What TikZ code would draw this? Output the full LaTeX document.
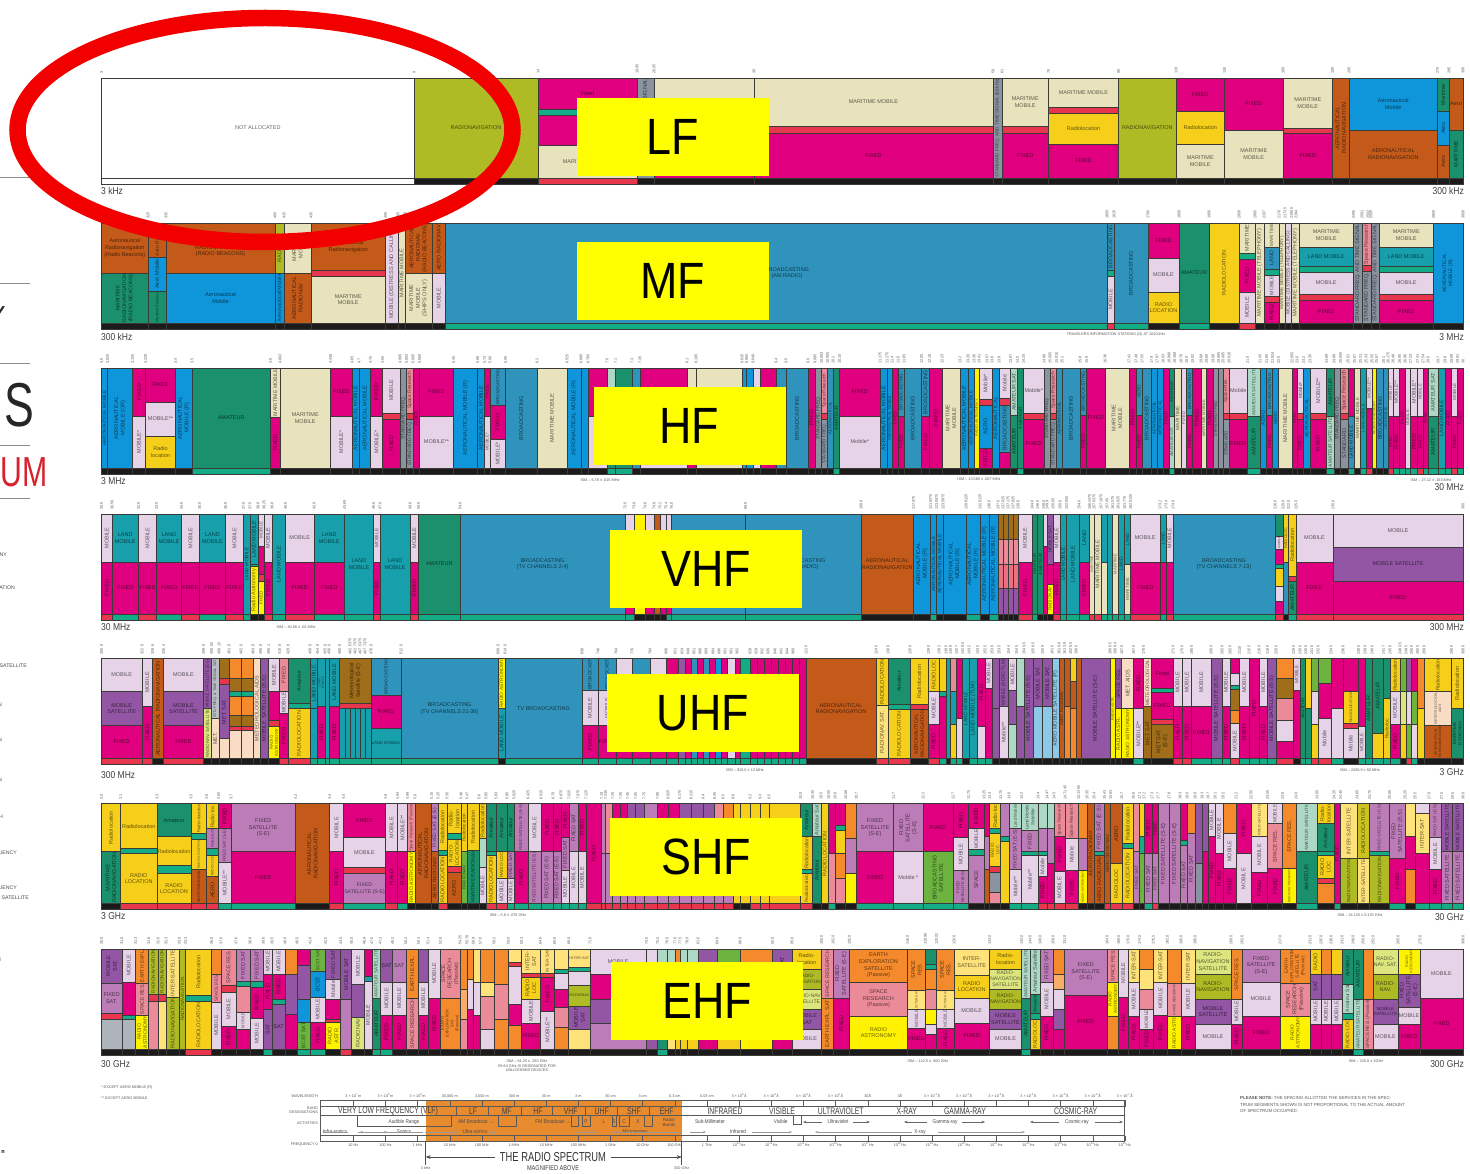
\documentclass[tikz,border=0pt]{standalone}
\usepackage{fontspec}
\setmainfont{Liberation Sans}
\usetikzlibrary{arrows.meta}
\definecolor{mg}{HTML}{E0007F}\definecolor{cr}{HTML}{E8E3BC}\definecolor{rd}{HTML}{E8364F}
\definecolor{ol}{HTML}{AEBB24}\definecolor{gn}{HTML}{14AC86}\definecolor{st}{HTML}{2F93BB}
\definecolor{bl}{HTML}{0F96DA}\definecolor{br}{HTML}{C35A19}\definecolor{dg}{HTML}{1A916C}
\definecolor{li}{HTML}{E6D3E8}\definecolor{pu}{HTML}{9256A4}\definecolor{oc}{HTML}{BC7CB8}
\definecolor{ye}{HTML}{F6CF1A}\definecolor{ly}{HTML}{FFE27A}\definecolor{by}{HTML}{FFF200}
\definecolor{gy}{HTML}{8A93A0}\definecolor{pk}{HTML}{EB8A98}\definecolor{te}{HTML}{17A0AC}
\definecolor{mi}{HTML}{ACD8C5}\definecolor{og}{HTML}{F58A2C}\definecolor{lg}{HTML}{DDE67E}
\definecolor{lm}{HTML}{6DB33F}\definecolor{pe}{HTML}{F8DCC4}\definecolor{lb}{HTML}{8CC8E8}
\definecolor{bi}{HTML}{A06E1A}\definecolor{bk}{HTML}{1C1A1A}\definecolor{wh}{HTML}{FFFFFF}
\definecolor{ln}{HTML}{3A3A36}\definecolor{elred}{HTML}{F20000}\definecolor{bo}{HTML}{E88A2E}
\definecolor{rm}{HTML}{D8232F}\definecolor{pureyel}{HTML}{FFFF00}
\newcount\nn
\newsavebox\lbbox
\newdimen\lbw \newdimen\lbh
\tikzset{cellline/.style={draw=ln,line width=.45pt},
 celltext/.style={inner sep=0pt,align=center,text=black,text opacity=.6},
 tinytext/.style={inner sep=0pt,text=black!65,font=\fontsize{3.8}{4.5}\selectfont},
 edgetext/.style={inner sep=0pt,text=black!75,font=\fontsize{10}{11}\selectfont},
 bigband/.style={fill=pureyel,inner sep=0pt,minimum width=192pt,minimum height=78pt,font=\fontsize{51}{54}\selectfont},
 bandtext/.style={inner sep=0pt,text=black!75,font=\fontsize{9.5}{10}\selectfont},
 acttext/.style={inner sep=0pt,text=black!70,font=\fontsize{5.5}{6}\selectfont}}
\newcommand\Rw[1]{\def\rowtop{#1}}
\newcommand\Cl[3]{\def\xa{#1}\def\xb{#2}\def\curend{0}%
 \pgfmathsetmacro\ya{\rowtop+100}\pgfmathsetmacro\yb{\rowtop+106}%
 \fill[#3] (\xa,\ya) rectangle (\xb,\yb);
 \draw[cellline] (\xa,\ya) rectangle (\xb,\yb);}
\newcommand\Bx[3]{%
 \pgfmathsetmacro\ya{\rowtop+\curend}\pgfmathsetmacro\yb{\rowtop+#2}%
 \fill[#1] (\xa,\ya) rectangle (\xb,\yb);
 \draw[cellline] (\xa,\ya) rectangle (\xb,\yb);
 \def\lab{#3}\ifx\lab\empty\else
 \pgfmathsetmacro\cw{\xb-\xa}\pgfmathsetmacro\ch{\yb-\ya}%
 \pgfmathsetmacro\cx{(\xa+\xb)/2}\pgfmathsetmacro\cy{(\ya+\yb)/2}%
 \sbox\lbbox{\pgfinterruptpicture\fontsize{5.5}{6.6}\selectfont\begin{tabular}{@{}c@{}}#3\end{tabular}\endpgfinterruptpicture}%
 \lbw=\wd\lbbox \lbh=\ht\lbbox \advance\lbh by \dp\lbbox
 \pgfmathsetmacro\bw{max(1,\the\lbw)}\pgfmathsetmacro\bh{max(1,\the\lbh)}%
 \pgfmathsetmacro\sh{min(1,min((\cw-1.5)/\bw,(\ch-.5)/\bh))}%
 \pgfmathsetmacro\sr{min(1,min((\ch-1.5)/\bw,(\cw-.5)/\bh))}%
 \pgfmathparse{\sr>\sh?1:0}\ifnum\pgfmathresult=1 \def\rr{90}\let\sv\sr\else\def\rr{0}\let\sv\sh\fi
 \pgfmathsetmacro\fs{max(2.6,5.5*\sv)}\pgfmathsetmacro\fsb{\fs*1.2}%
 \global\advance\nn by 1
 \begin{scope}\clip (\xa,\ya) rectangle (\xb,\yb);
 \node[celltext,rotate=\rr,font=\fontsize{\fs}{\fsb}\selectfont] (c\the\nn) at (\cx,\cy) {#3};
 \end{scope}\fi
 \def\curend{#2}}
\newcommand\One[5]{\Cl{#1}{#2}{#3}\Bx{#4}{100}{#5}}
\newcommand\Two[8]{\Cl{#1}{#2}{#3}\Bx{#4}{#5}{#6}\Bx{#7}{100}{#8}}
\newcommand\Thr[9]{\Cl{#1}{#2}{#3}\Bx{#4}{#5}{#6}\Bx{#7}{#8}{#9}\ThrEnd}
\newcommand\ThrEnd[2]{\Bx{#1}{100}{#2}}
\newcommand\LmF[3]{\Two{#1}{#2}{#3}{te}{48}{LAND\\MOBILE}{mg}{FIXED}}
\newcommand\Tt[4][]{\global\advance\nn by 1 \node[#1] (t\the\nn) at (#2,#3) {#4};}
\newcommand\Tks[2]{\foreach \x/\t in {#2}{\global\advance\nn by 1
 \node[tinytext,rotate=90,anchor=west] (k\the\nn) at (\x,#1-4) {\t};}}
\newcommand\Cnd[2][.72]{\scalebox{#1}[1]{#2}}
\begin{document}
\begin{tikzpicture}[x=1pt,y=-1pt]
\useasboundingbox (0,0) rectangle (1470,1174);
\clip (0,0) rectangle (1470,1174);
\fill[white] (0,0) rectangle (1470,1174);
% cropped page furniture on the left
\foreach \yy in {177,283,363,445,498}{\draw[black!45,line width=.7pt] (0,\yy) -- (30,\yy);}
\Tt[inner sep=0pt,anchor=east,font=\fontsize{62}{64}\selectfont,text=black!85]{34}{405}{\Cnd[.72]{IS}}
\Tt[inner sep=0pt,anchor=east,font=\fontsize{42}{44}\selectfont,text=rm]{47.5}{472}{\Cnd[.72]{RUM}}
\Tt[inner sep=0pt,anchor=east,font=\fontsize{26}{28}\selectfont,text=black!85]{6}{316}{Y}
\foreach \yy/\tx/\xx in {555/NY/7,588/ATION/15,666/SATELLITE/27,705/N/2,740/N/2,780/N/2,817/H/3,853/UENCY/17,888/UENCY/17,898/. SATELLITE/29,960/N/1}{
 \Tt[inner sep=0pt,anchor=east,text=black!70,font=\fontsize{5.2}{6}\selectfont]{\xx}{\yy}{\tx}}
\Tt[inner sep=0pt,anchor=east,text=black,font=\bfseries\fontsize{5.5}{6}\selectfont]{5}{1152}{n}
%% ===== LF =====
\Rw{78}
\Tks{78}{101.5/3,414/9,538/14,637/19.95,654/20.05,754/30,993/59,1002/61,1048.5/70,1118.5/90,1176/110,1224.5/130,1283/160,1332.5/190,1349/200,1437.5/275,1449/285,1463/300}
\One{101.5}{414}{wh}{wh}{NOT ALLOCATED}
\One{414}{538}{bk}{ol}{RADIONAVIGATION}
\Cl{538}{637}{rd}\Bx{mg}{31}{Fixed}\Bx{gn}{37}{}\Bx{mg}{67}{}\Bx{cr}{100}{MARITIME MOBILE}
\One{637}{654}{bk}{gy}{STANDARD FREQ. AND TIME SIGNAL}
\Thr{654}{754}{bk}{cr}{48}{}{rd}{55}{}{mg}{}
\Thr{754}{993}{bk}{cr}{48}{MARITIME MOBILE}{rd}{55}{}{mg}{FIXED}
\One{993}{1002}{bk}{gy}{STANDARD FREQ. AND TIME SIGNAL (60 kHz)}
\Thr{1002}{1048.5}{bk}{cr}{48}{MARITIME\\MOBILE}{rd}{55}{}{mg}{FIXED}
\Cl{1048.5}{1118.5}{bk}\Bx{cr}{29}{MARITIME MOBILE}\Bx{rd}{35}{}\Bx{ye}{66}{Radiolocation}\Bx{mg}{100}{FIXED}
\One{1118.5}{1176}{bk}{ol}{RADIONAVIGATION}
\Thr{1176}{1224.5}{bk}{mg}{33}{FIXED}{ye}{66}{Radiolocation}{cr}{MARITIME\\MOBILE}
\Two{1224.5}{1283}{bk}{mg}{52}{FIXED}{cr}{MARITIME\\MOBILE}
\Thr{1283}{1332.5}{bk}{cr}{50}{MARITIME\\MOBILE}{rd}{55}{}{mg}{FIXED}
\One{1332.5}{1349}{bk}{br}{AERONAUTICAL\\RADIONAVIGATION}
\Two{1349}{1437.5}{bk}{bl}{52}{Aeronautical\\Mobile}{br}{AERONAUTICAL\\RADIONAVIGATION}
\Thr{1437.5}{1449}{bk}{dg}{33}{Maritime}{bl}{67}{Aero}{br}{Aero}
\Two{1449}{1463}{bk}{br}{52}{Aero}{dg}{MARITIME}
%% ===== MF =====
\Rw{223}
\Tks{223}{148/325,166/335,275/405,284/415,311/435,385.5/495,398/505,405/510,432/525,1107/1605,1114/1615,1148/1705,1179/1800,1209/1900,1239/2000,1255/2065,1264/2107,1279/2170,1285/2173.5,1291.5/2190.5,1296/2194,1353.5/2495,1362/2501,1368/2502,1371/2505,1433.5/2850,1463/3000}
\Two{101.5}{148}{bk}{br}{50}{Aeronautical\\Radionavigation\\(Radio Beacons)}{dg}{MARITIME\\RADIONAVIGATION\\(RADIO BEACONS)}
\Thr{148}{166}{bk}{br}{34}{Aero Radionav}{bl}{68}{Aero Mobile}{dg}{Maritime Radionav}
\Two{166}{275}{bk}{br}{50}{AERONAUTICAL\\RADIONAVIGATION\\(RADIO BEACONS)}{bl}{Aeronautical\\Mobile}
\Two{275}{284}{bk}{ol}{50}{RADIONAV}{bl}{Aeronautical Mobile}
\Two{284}{311}{bk}{cr}{50}{MARITIME\\MOBILE}{br}{AERONAUTICAL\\RADIONAV}
\Thr{311}{385.5}{bk}{br}{47}{Aeronautical\\Radionavigation}{rd}{53}{}{cr}{MARITIME\\MOBILE}
\One{385.5}{398}{bk}{li}{MOBILE (DISTRESS AND CALLING)}
\One{398}{405}{bk}{cr}{MARITIME MOBILE}
\Two{405}{432}{bk}{br}{50}{AERONAUTICAL\\RADIONAV\\(RADIO BEACONS)}{cr}{MARITIME\\MOBILE\\(SHIPS ONLY)}
\Two{432}{445.5}{bk}{br}{50}{AERO RADIONAV}{li}{MOBILE}
\One{445.5}{1107}{gn}{st}{}
\Tt[celltext,font=\fontsize{5.5}{6.6}\selectfont]{787}{273}{BROADCASTING\\(AM RADIO)}
\Thr{1107}{1114}{rd}{st}{47}{BROADCASTING}{gn}{53}{}{li}{MOBILE}
\One{1114}{1148}{gn}{st}{BROADCASTING}
\Thr{1148}{1179}{bk}{mg}{35}{FIXED}{li}{69}{MOBILE}{ye}{RADIO\\LOCATION}
\One{1179}{1209}{gn}{dg}{AMATEUR}
\One{1209}{1239}{bk}{ye}{}
\Tt[celltext,rotate=90,font=\fontsize{5.5}{6.6}\selectfont]{1224}{273}{RADIOLOCATION}
\Cl{1239}{1255}{rd}\Bx{cr}{30}{MARITIME}\Bx{gn}{36}{}\Bx{mg}{69}{FIXED}\Bx{li}{100}{MOBILE}
\One{1255}{1264}{bk}{cr}{MARITIME MOBILE (TELEPHONY)}
\Cl{1264}{1279}{bk}\Bx{cr}{24}{MARITIME}\Bx{st}{46}{LAND}\Bx{gn}{52}{}\Bx{li}{73}{MOBILE}\Bx{rd}{79}{}\Bx{mg}{100}{FIXED}
\One{1279}{1285}{bk}{cr}{MARITIME MOBILE (TELEPHONY)}
\One{1285}{1291.5}{bk}{li}{MOBILE (DISTRESS AND CALLING)}
\One{1291.5}{1299}{bk}{cr}{MARITIME MOBILE (TELEPHONY)}
\Cl{1299}{1353.5}{bk}\Bx{cr}{24}{MARITIME\\MOBILE}\Bx{te}{43}{LAND MOBILE}\Bx{gn}{49}{}\Bx{li}{71}{MOBILE}\Bx{rd}{77}{}\Bx{mg}{100}{FIXED}
\One{1353.5}{1362}{bk}{gy}{STANDARD FREQ. AND TIME SIGNAL}
\Thr{1362}{1371}{bk}{pk}{42}{Space Research}{rd}{48}{}{gy}{STANDARD FREQ.}
\One{1371}{1379}{bk}{gy}{STANDARD FREQ. AND TIME SIGNAL}
\Cl{1379}{1433.5}{bk}\Bx{cr}{24}{MARITIME\\MOBILE}\Bx{te}{43}{LAND MOBILE}\Bx{gn}{49}{}\Bx{li}{71}{MOBILE}\Bx{rd}{77}{}\Bx{mg}{100}{FIXED}
\One{1433.5}{1463}{bk}{bl}{}
\Tt[celltext,rotate=90,font=\fontsize{5}{6}\selectfont]{1448}{273}{AERONAUTICAL\\MOBILE (R)}
%% ===== HF =====
\Rw{368}
\Tks{368}{101.5/3.0,107.5/3.025,132.5/3.155,145.5/3.230,175.5/3.4,192/3.5,270.5/4.0,280/4.063,330.5/4.438,352/4.65,359/4.7,370.5/4.75,382.5/4.85,400/4.995,406.5/5.003,413/5.005,419.5/5.060,453.5/5.45,477.5/5.68,484.5/5.73,490/5.90,505.5/5.95,537/6.2,567/6.525,581/6.685,588/6.765,607/7.0,615.5/7.1,632/7.3,640/7.35,687/8.1,696/8.195,742/8.815,746.5/8.965,753/9.040,776/9.4,786/9.5,808/9.9,815/9.995,821.5/10.003,827.5/10.005,833/10.1,839.6/10.15,880/11.175,887/11.275,892/11.4,898/11.6,904/11.65,921.5/12.05,929.5/12.10,942/12.23,960/13.2,968/13.26,974/13.36,979/13.41,987/13.57,992/13.6,999/13.8,1010.5/13.87,1017.5/14.0,1023.5/14.25,1044/14.99,1050/15.005,1056.5/15.010,1062/15.1,1080/15.8,1086.5/15.9,1105/16.36,1129/17.41,1136/17.48,1142/17.55,1151.5/17.9,1157/17.97,1163/18.03,1169/18.068,1174.5/18.168,1181/18.78,1186.5/18.9,1192.5/19.02,1201/19.68,1206.5/19.80,1213/19.99,1218.5/19.995,1223/20.005,1229/20.010,1247.5/21.0,1260/21.45,1266.5/21.85,1272.5/21.924,1278.5/22.0,1292/22.855,1297/23.0,1303.5/23.2,1310/23.35,1326.5/24.89,1334/24.99,1340.5/25.005,1348/25.01,1354.5/25.07,1360.5/25.21,1366/25.33,1372/25.55,1376.5/25.67,1383.5/26.1,1388/26.175,1393/26.48,1399.5/26.95,1405/26.96,1410.5/27.23,1417.5/27.41,1423/27.54,1428/28.0,1438/29.7,1445/29.8,1451.5/29.89,1457.5/29.91,1463/30}
\One{101.5}{107.5}{bk}{bl}{AERONAUTICAL MOBILE}
\One{107.5}{132.5}{bk}{bl}{AERONAUTICAL\\MOBILE (OR)}
\Two{132.5}{145.5}{bk}{mg}{48}{FIXED}{li}{MOBILE*}
\Thr{145.5}{175.5}{bk}{mg}{34}{FIXED}{li}{68}{MOBILE**}{ye}{Radio\\location}
\One{175.5}{192}{bk}{bl}{AERONAUTICAL\\MOBILE (R)}
\One{192}{270.5}{gn}{dg}{AMATEUR}
\Two{270.5}{280}{bk}{cr}{49}{MARITIME MOBILE}{mg}{FIXED}
\One{280}{330.5}{bk}{cr}{MARITIME\\MOBILE}
\Two{330.5}{352}{bk}{mg}{48}{FIXED}{li}{MOBILE*}
\One{352}{359}{bk}{bl}{AERONAUTICAL MOBILE}
\One{359}{370.5}{bk}{bl}{AERONAUTICAL MOBILE}
\Two{370.5}{382.5}{bk}{mg}{48}{FIXED}{li}{MOBILE*}
\Thr{382.5}{400}{bk}{li}{45}{MOBILE}{rd}{51}{}{mg}{FIXED}
\One{400}{406.5}{bk}{gy}{STANDARD FREQ.}
\Thr{406.5}{413}{bk}{pk}{45}{Space Research}{rd}{51}{}{gy}{STANDARD FREQ.}
\One{413}{419.5}{bk}{mg}{FIXED}
\Two{419.5}{453.5}{bk}{mg}{48}{FIXED}{li}{MOBILE**}
\One{453.5}{477.5}{bk}{bl}{AERONAUTICAL MOBILE (R)}
\One{477.5}{484.5}{bk}{bl}{AERONAUTICAL MOBILE}
\Two{484.5}{490}{bk}{mg}{48}{FIXED}{li}{MOBILE*}
\Thr{490}{505.5}{bk}{st}{37}{BROADCASTING}{mg}{71}{FIXED}{li}{MOBILE*}
\One{505.5}{537}{bk}{st}{BROADCASTING}
\One{537}{567}{bk}{cr}{MARITIME MOBILE}
\One{567}{581}{bk}{bl}{AERONAUTICAL MOBILE (R)}
\One{581}{588}{bk}{bl}{}
\Two{588}{607}{bk}{mg}{48}{}{li}{}
\Two{607}{615.5}{gn}{mi}{48}{}{dg}{}
\One{615.5}{632}{gn}{dg}{}
\One{632}{640}{bk}{st}{}
\Two{640}{687}{bk}{mg}{48}{}{li}{}
\Two{687}{696}{bk}{cr}{30}{}{mg}{}
\One{696}{742}{bk}{cr}{}
\One{742}{746.5}{bk}{bl}{}\One{746.5}{753}{bk}{bl}{}\One{753}{760}{bk}{li}{}
\One{760}{776}{bk}{mg}{}\One{776}{786}{bk}{st}{}
\One{786}{808}{bk}{st}{BROADCASTING}
\One{808}{815}{bk}{mg}{FIXED}
\One{815}{821.5}{bk}{gy}{STANDARD FREQ.}
\Thr{821.5}{827.5}{bk}{pk}{45}{Space Research}{rd}{51}{}{gy}{STANDARD FREQ.}
\One{827.5}{833}{bk}{st}{AERONAUTICAL}
\One{833}{839.6}{gn}{dg}{AMATEUR}
\Two{839.6}{880}{bk}{mg}{48}{FIXED}{li}{Mobile*}
\One{880}{887}{bk}{bl}{AERONAUTICAL MOBILE}
\One{887}{892}{bk}{bl}{AERONAUTICAL MOBILE}
\One{892}{898}{bk}{mg}{FIXED}
\Two{898}{904}{bk}{st}{48}{BROADCASTING}{mg}{FIXED}
\One{904}{921.5}{bk}{st}{BROADCASTING}
\Two{921.5}{929.5}{bk}{st}{48}{BROADCASTING}{mg}{FIXED}
\One{929.5}{942}{bk}{mg}{FIXED}
\One{942}{960}{bk}{cr}{MARITIME\\MOBILE}
\One{960}{968}{bk}{bl}{AERONAUTICAL MOBILE}
\One{968}{974}{bk}{bl}{AERONAUTICAL MOBILE}
\One{974}{979}{bk}{by}{RADIO ASTRONOMY}
\Cl{979}{992}{bk}\Bx{li}{31}{Mobile*}\Bx{rd}{37}{}\Bx{bl}{80}{AERO}\Bx{mg}{100}{FIXED}
\One{992}{999}{bk}{bl}{AERONAUTICAL}
\Cl{999}{1010.5}{bk}\Bx{li}{30}{Mobile}\Bx{rd}{37}{}\Bx{st}{84}{BROADCASTING}\Bx{mg}{100}{}
\Two{1010.5}{1017.5}{bk}{mi}{47}{AMATEUR SAT.}{dg}{AMATEUR}
\One{1017.5}{1023.5}{gn}{dg}{AMATEUR}
\Thr{1023.5}{1044}{bk}{li}{45}{Mobile*}{rd}{51}{}{mg}{FIXED}
\One{1044}{1050}{bk}{gy}{STANDARD FREQ.}
\Thr{1050}{1056.5}{bk}{pk}{45}{Space Research}{rd}{51}{}{gy}{STANDARD FREQ.}
\One{1056.5}{1062}{bk}{st}{AERONAUTICAL}
\One{1062}{1080}{bk}{st}{BROADCASTING}
\Two{1080}{1086.5}{bk}{st}{47}{BROADCASTING}{mg}{FIXED}
\One{1086.5}{1105}{bk}{mg}{FIXED}
\One{1105}{1129}{bk}{cr}{MARITIME\\MOBILE}
\One{1129}{1136}{bk}{mg}{FIXED}
\Two{1136}{1142}{bk}{st}{47}{AERO}{mg}{FIXED}
\One{1142}{1151.5}{bk}{st}{BROADCASTING}
\One{1151.5}{1157}{bk}{bl}{AERONAUTICAL}
\One{1157}{1163}{bk}{bl}{AERONAUTICAL}
\One{1163}{1169}{bk}{mg}{FIXED}
\Two{1169}{1174.5}{gn}{dg}{48}{AMATEUR}{mi}{AMATEUR SAT.}
\One{1174.5}{1181}{bk}{cr}{MARITIME}
\One{1181}{1186.5}{bk}{li}{FIXED}
\Two{1186.5}{1192.5}{bk}{st}{47}{BROADCASTING}{mg}{FIXED}
\One{1192.5}{1201}{bk}{mg}{FIXED}
\One{1201}{1206.5}{bk}{cr}{MARITIME MOBILE}
\One{1206.5}{1213}{bk}{mg}{FIXED}
\One{1213}{1218.5}{bk}{gy}{STANDARD FREQ.}
\One{1218.5}{1223}{bk}{gy}{}
\Thr{1223}{1229}{bk}{pk}{45}{Space Res.}{rd}{51}{}{gy}{STANDARD}
\Thr{1229}{1247.5}{bk}{li}{45}{Mobile}{rd}{51}{}{mg}{FIXED}
\Two{1247.5}{1260}{gn}{mi}{48}{AMATEUR SATELLITE}{dg}{AMATEUR}
\One{1260}{1266.5}{bk}{bl}{AERO}
\Two{1266.5}{1272.5}{bk}{st}{47}{BROADCASTING}{mg}{FIXED}
\One{1272.5}{1278.5}{bk}{bl}{AERO}
\One{1278.5}{1292}{bk}{cr}{MARITIME MOBILE}
\One{1292}{1297}{bk}{mg}{FIXED}
\Thr{1297}{1303.5}{bk}{li}{45}{Mobile*}{rd}{51}{}{mg}{FIXED}
\One{1303.5}{1310}{bk}{bl}{AERONAUTICAL}
\Thr{1310}{1326.5}{bk}{li}{45}{MOBILE**}{rd}{51}{}{mg}{FIXED}
\Two{1326.5}{1334}{gn}{dg}{48}{AMATEUR}{mi}{AMATEUR SATELLITE}
\One{1334}{1340.5}{bk}{gy}{STANDARD FREQ.}
\Thr{1340.5}{1348}{bk}{pk}{45}{Space Research}{rd}{51}{}{gy}{STANDARD}
\Two{1348}{1354.5}{gn}{mg}{48}{}{st}{LAND MOBILE}
\One{1354.5}{1360.5}{bk}{cr}{MARITIME MOBILE}
\One{1360.5}{1366}{gn}{te}{LAND MOBILE}
\Two{1366}{1372}{rd}{li}{40}{MOBILE**}{mg}{}
\One{1372}{1376.5}{bk}{by}{RADIO ASTRONOMY}
\One{1376.5}{1383.5}{bk}{st}{BROADCASTING}
\One{1383.5}{1388}{bk}{st}{LAND MOBILE}
\Two{1388}{1393}{rd}{li}{48}{MOBILE**}{mg}{FIXED}
\Two{1393}{1399.5}{gn}{li}{48}{MOBILE**}{mg}{FIXED}
\One{1399.5}{1405}{gn}{mg}{FIXED}
\One{1405}{1410.5}{gn}{li}{MOBILE}
\Two{1410.5}{1417.5}{gn}{li}{48}{MOBILE*}{mg}{FIXED}
\Two{1417.5}{1423}{rd}{li}{48}{MOBILE}{mg}{FIXED}
\One{1423}{1428}{gn}{mg}{FIXED}
\Two{1428}{1438}{gn}{mi}{48}{AMATEUR SAT.}{dg}{AMATEUR}
\One{1438}{1445}{gn}{te}{LAND MOBILE}
\One{1445}{1451.5}{gn}{mg}{FIXED}
\Two{1451.5}{1457.5}{rd}{li}{48}{MOBILE}{mg}{FIXED}
\One{1457.5}{1463}{gn}{mg}{FIXED}
%% ===== VHF =====
\Rw{514}
\Tks{514}{101.5/30.0,112/30.56,138.5/32.0,156.5/33.0,181.5/34.0,199.5/35.0,225.5/36.0,243.5/37.0,250/37.5,258/38.0,264/38.25,272/39.0,285.5/40.0,314/42.0,344.5/43.69,373.5/46.6,380/47.0,410/49.6,418.5/50.0,460/54.0,625/72.0,634/73.0,645/74.6,654/74.8,660/75.2,666/75.4,671.5/76.0,745.6/88.0,861/108.0,913.5/117.975,930.5/121.9375,936.5/123.0875,943/123.5875,966/128.8125,980/132.0125,989/136.0,998/137.0,1003/137.025,1008/137.175,1013/137.825,1018/138.0,1032/144.0,1037.5/146.0,1043.5/148.0,1047/149.9,1053/150.05,1060/150.8,1066.5/152.855,1079/154.0,1089.5/156.2475,1094/157.0375,1101/157.1875,1107/157.45,1112.5/161.575,1118/161.625,1124.5/161.775,1130.5/162.0125,1160/173.2,1166/173.4,1173/174.0,1275/216.0,1283/220.0,1288.5/222.0,1296/225.0,1333/235.0,1463/300}
\newcommand\VM[3]{\Two{#1}{#2}{#3}{li}{48}{MOBILE}{mg}{FIXED}}
\VM{101.5}{112}{rd}\LmF{112}{138.5}{gn}\VM{138.5}{156.5}{rd}\LmF{156.5}{181.5}{gn}\VM{181.5}{199.5}{rd}\LmF{199.5}{225.5}{gn}\VM{225.5}{243.5}{rd}
\One{243.5}{250}{gn}{te}{LAND MOBILE}
\Thr{250}{258}{bk}{te}{50}{LAND MOBILE}{gn}{52}{}{by}{Radio Astronomy}
\Cl{258}{264}{bk}\Bx{li}{32}{MOBILE}\Bx{mg}{60}{}\Bx{rd}{67}{}\Bx{by}{100}{FIXED}
\VM{264}{272}{rd}
\One{272}{285.5}{gn}{te}{LAND MOBILE}
\VM{285.5}{314}{rd}\LmF{314}{344.5}{gn}
\One{344.5}{373.5}{gn}{te}{LAND\\MOBILE}
\VM{373.5}{380}{rd}
\One{380}{410}{gn}{te}{LAND\\MOBILE}
\VM{410}{418.5}{rd}
\One{418.5}{460}{gn}{dg}{AMATEUR}
\One{460}{625}{gn}{st}{BROADCASTING\\(TV CHANNELS 2-4)}
\Two{625}{634}{gn}{li}{48}{}{mg}{}
\Two{634}{645}{bk}{by}{48}{}{by}{}
\Two{645}{654}{bk}{li}{48}{}{mg}{}
\One{654}{660}{bk}{br}{}
\Two{660}{666}{bk}{li}{48}{}{mg}{}
\Two{666}{671.5}{gn}{li}{48}{}{mg}{}
\One{671.5}{745.6}{gn}{st}{}
\One{745.6}{861}{gn}{st}{BROADCASTING\\(FM RADIO)}
\One{861}{913.5}{bk}{br}{AERONAUTICAL\\RADIONAVIGATION}
\One{913.5}{930.5}{bk}{bl}{AERONAUTICAL\\MOBILE (R)}
\One{930.5}{936.5}{gn}{bl}{AERONAUTICAL MOBILE}
\One{936.5}{943}{bk}{bl}{AERONAUTICAL MOBILE}
\One{943}{966}{bk}{bl}{AERONAUTICAL\\MOBILE (R)}
\One{966}{980}{gn}{bl}{AERONAUTICAL\\MOBILE (R)}
\One{980}{989}{bk}{bl}{AERONAUTICAL MOBILE (R)}
\One{989}{998}{gn}{bl}{AERONAUTICAL MOBILE (R)}
\foreach \pa/\pb in {998/1003,1003/1008,1008/1013,1013/1018}{
 \Cl{\pa}{\pb}{bk}\Bx{bi}{25}{}\Bx{pk}{50}{}\Bx{pk!70!rd}{74}{}\Bx{pu}{100}{}}
\VM{1018}{1032}{rd}
\One{1032}{1037.5}{gn}{dg}{AMATEUR}
\One{1037.5}{1043.5}{bk}{dg}{AMATEUR}
\Two{1043.5}{1047}{bk}{li}{32}{}{mg}{}
\Thr{1047}{1053}{bk}{pu}{50}{MOBILE SAT.}{mg}{70}{}{by}{RADIONAV}
\VM{1053}{1060}{rd}
\One{1060}{1066.5}{gn}{te}{LAND MOBILE}
\One{1066.5}{1079}{gn}{te}{LAND MOBILE}
\Two{1079}{1089.5}{gn}{te}{48}{LAND}{mg}{FIXED}
\One{1089.5}{1094}{rd}{cr}{MARITIME}
\One{1094}{1101}{rd}{cr}{MARITIME MOBILE}
\Two{1101}{1107}{gn}{te}{48}{}{cr}{}
\One{1107}{1112.5}{gn}{te}{}
\One{1112.5}{1118}{gn}{cr}{MARITIME}
\One{1118}{1124.5}{gn}{te}{LAND}
\Two{1124.5}{1130.5}{gn}{te}{50}{LAND}{cr}{MARITIME}
\VM{1130.5}{1160}{rd}
\Two{1160}{1166}{gn}{te}{48}{LAND}{mg}{}
\Two{1166}{1173}{rd}{li}{48}{MOBILE}{mg}{}
\One{1173}{1275}{gn}{st}{BROADCASTING\\(TV CHANNELS 7-13)}
\Cl{1275}{1283}{rd}\Bx{dg}{22}{}\Bx{li}{35}{MOBILE}\Bx{mg}{50}{}\Bx{gn}{54}{}\Bx{ye}{72}{}\Bx{li}{87}{}\Bx{mg}{100}{}
\Two{1283}{1288.5}{bk}{ye}{48}{RADIOLOC}{st}{}
\Thr{1288.5}{1296}{gn}{ye}{62}{Radiolocation}{rd}{67}{}{dg}{AMATEUR}
\Two{1296}{1333}{rd}{li}{48}{MOBILE}{mg}{FIXED}
\Thr{1333}{1463}{rd}{li}{33}{MOBILE}{pu}{67}{MOBILE SATELLITE}{mg}{FIXED}
%% ===== UHF =====
\Rw{658.5}
\Tks{658.5}{101.5/300.0,142/322.0,152.5/328.6,163.5/335.4,203.5/399.9,211.5/400.05,219/400.15,229/401.0,241/402.0,253/403.0,260.5/406.0,268.5/406.1,279.5/410.0,288/420.0,310/450.0,317.5/454.0,325/455.0,329/456.0,339.5/460.0,350/462.5375,355/462.7375,360/467.5375,365/467.7375,371/470.0,401/512.0,498/608.0,505/614.0,582/698,598/746,616/764,632/776,650/794,666/806,675/821,682/824,688/849,694/851,700/866,706/869,713/894,719/896,725/901,731/901,737/902,750/928,756/929,762/932,768/935,775/940,781/941,787/944,793/960,806/1215,876/1240,888/1300,910/1350,928.5/1390,939/1392,946/1395,950.5/1400,956.5/1427,962.5/1429.5,969/1432,977.5/1435,985/1525,992/1530,999/1535,1008.5/1544,1016.5/1545,1024/1549.5,1033/1558.5,1042.5/1559,1052/1610,1059/1610.6,1064.5/1613.8,1070.5/1626.5,1076/1660,1110/1660.5,1115/1668.4,1121.7/1670,1133.5/1675,1143.5/1700,1173/1710,1182/1755,1191.5/1850,1211/2000,1222/2020,1230/2025,1239.5/2110,1249/2155,1259/2160,1267.5/2180,1276/2200,1293.5/2290,1300/2300,1305.7/2305,1311.7/2310,1318/2320,1331/2345,1343/2360,1358.5/2385,1365/2390,1372/2400,1383.5/2417,1390/2450,1400/2483.5,1406/2495,1411.5/2500,1417.5/2655,1424/2690,1451.5/2900,1463/3000}
\newcommand\MSF[2]{\Thr{#1}{#2}{rd}{li}{33}{MOBILE}{pu}{67}{MOBILE\\SATELLITE}{mg}{FIXED}}
\MSF{101.5}{142}
\Two{142}{152.5}{rd}{li}{48}{MOBILE}{mg}{FIXED}
\One{152.5}{163.5}{bk}{br}{AERONAUTICAL RADIONAVIGATION}
\MSF{163.5}{203.5}
\Two{203.5}{211.5}{bk}{pu}{50}{MOBILE SATELLITE (E-S)}{lg}{RADIONAV. SATELLITE}
\Two{211.5}{219}{bk}{gy!60!white}{60}{STD. FREQ. \& TIME SIGNAL SAT.}{pe}{MET.}
\Cl{219}{229}{bk}\Bx{bi}{20}{}\Bx{rd}{26}{}\Bx{pu}{80}{MET. SAT.}\Bx{pe}{100}{}
\Cl{229}{241}{bk}\Bx{og}{20}{}\Bx{bi}{33}{}\Bx{gn}{38}{}\Bx{og}{57}{}\Bx{bi}{68}{}\Bx{rd}{72}{}\Bx{pe}{100}{}
\Cl{241}{253}{bk}\Bx{og}{20}{}\Bx{bi}{33}{}\Bx{gn}{38}{}\Bx{og}{57}{}\Bx{bi}{68}{}\Bx{rd}{72}{}\Bx{pe}{100}{}
\One{253}{260.5}{bk}{pe}{METEOROLOGICAL AIDS}
\One{260.5}{268.5}{bk}{pu}{MOBILE SATELLITE (E-S)}
\Cl{268.5}{279.5}{bk}\Bx{li}{33}{MOBILE}\Bx{mg}{62}{}\Bx{rd}{68}{}\Bx{by}{100}{RADIO\\ASTRONOMY}
\Thr{279.5}{288}{rd}{pk}{33}{FIXED}{li}{55}{MOBILE}{mg}{FIXED}
\Thr{288}{310}{rd}{dg}{45}{Amateur}{gn}{50}{}{ye}{RADIOLOCATION}
\Two{310}{317.5}{gn}{te}{50}{LAND MOBILE}{te}{}
\LmF{317.5}{325}{gn}
\One{325}{329}{gn}{te}{}
\Two{329}{339.5}{gn}{te}{48}{LAND MOBILE}{mg}{FIXED}
\Thr{339.5}{371}{gn}{bi}{45}{Meteorological\\Satellite (S-E)}{rd}{50}{}{te}{}
\foreach \vx in {345,350,355,360,365}{\draw[cellline] (\vx,708) -- (\vx,758);}
\Thr{371}{401}{gn}{st}{37}{BROADCASTING}{mg}{70}{FIXED}{te}{LAND MOBILE}
\One{401}{498}{gn}{st}{BROADCASTING\\(TV CHANNELS 21-36)}
\Two{498}{505}{bk}{by}{50}{RADIO ASTRONOMY}{te}{LAND MOBILE}
\One{505}{582}{gn}{st}{TV BROADCASTING}
\Thr{582}{598}{gn}{st}{32}{BROADCAST}{li}{67}{MOBILE}{mg}{FIXED}
\Thr{598}{616}{gn}{st}{32}{BROADCAST}{li}{67}{MOBILE}{mg}{FIXED}
\Thr{616}{632.5}{gn}{li}{32}{}{li}{67}{}{mg}{}
\Thr{632.5}{650}{gn}{st}{32}{}{li}{67}{}{mg}{}
\Thr{650}{666}{gn}{li}{32}{}{li}{67}{}{mg}{}
\foreach \pa/\pb/\pc in {666/678.6/mg,678.6/685/pu,685/691/mg,691/697.5/st,697.5/703/mg,703/709/st,709/715.5/mg,715.5/721.5/bl,721.5/727.7/mg,727.7/735/li,735/740/mg,740/750/gn,750/757/mg,757/764/mg,764/771/mg,771/778/mg,778/785/mg,785/792/mg,792/799/mg,799/806/mg}{\One{\pa}{\pb}{gn}{\pc}{}}
\One{806}{876}{bk}{br}{AERONAUTICAL\\RADIONAVIGATION}
\Two{876}{888}{rd}{ye}{47}{RADIOLOCATION}{ly}{RADIONAV. SAT.}
\Thr{888}{910}{rd}{dg}{46}{Amateur}{gn}{51}{}{ye}{RADIOLOCATION}
\Thr{910}{928.5}{bk}{ye}{46}{Radiolocation}{rd}{51}{}{br}{AERONAUTICAL\\RADIONAVIGATION}
\Thr{928.5}{939}{rd}{ye}{33}{RADIOLOC}{li}{66}{MOBILE}{mg}{FIXED}
\Thr{939}{946}{gn}{ye}{33}{}{gn}{38}{}{mg}{}
\One{946}{950.5}{bk}{te}{}
\Thr{950.5}{956.5}{gn}{pk}{33}{}{te}{66}{}{ye}{}
\Two{956.5}{962.5}{gn}{mg}{60}{}{li}{}
\One{962.5}{969}{bk}{te}{LAND MOBILE}
\One{969}{977.5}{gn}{te}{LAND MOBILE (TLM)}
\Two{977.5}{985}{gn}{mg}{68}{FIXED}{li}{}
\Two{985}{992}{gn}{li}{30}{MOBILE}{mg}{}
\Two{992}{999}{bk}{pu}{50}{}{pu}{}
\Two{999}{1008.5}{bk}{pu}{48}{MOBILE (AERO TLM)}{li}{Mobile**}
\Thr{1008.5}{1016.5}{bk}{li}{32}{MOBILE}{pu}{66}{}{mi}{}
\Two{1016.5}{1024}{bk}{mi}{48}{}{pu}{}
\One{1024}{1033}{bk}{pu}{MOBILE SATELLITE (E-S)}
\Two{1033}{1042.5}{bk}{pu}{48}{MOBILE SAT.}{lb}{}
\Two{1042.5}{1052}{bk}{pu}{48}{MOBILE SAT.}{lb}{}
\One{1052}{1059}{bk}{lb}{AERO MOBILE SATELLITE (R)}
\One{1059}{1064.5}{bk}{br}{AERO RADIONAV}
\Two{1064.5}{1070.5}{bk}{br}{48}{}{og}{}
\Thr{1070.5}{1076}{bk}{ye}{23}{}{br}{50}{}{og}{}
\One{1076}{1081}{bk}{br}{}
\One{1081}{1110}{bk}{pu}{MOBILE SATELLITE (S-E)}
\One{1110}{1115}{bk}{by}{RADIO ASTR.}
\Two{1115}{1121.7}{bk}{pu}{50}{SPACE RES.}{by}{RADIO ASTR.}
\Two{1121.7}{1133.5}{bk}{pe}{50}{MET. AIDS}{by}{RADIO ASTRONOMY}
\Two{1133.5}{1143.5}{gn}{mg}{50}{FIXED}{li}{MOBILE**}
\Two{1143.5}{1151.5}{bk}{pe}{48}{METEOROLOGICAL}{bi}{MET. SAT.}
\Cl{1151.5}{1173}{bk}\Bx{mg}{30}{Fixed}\Bx{gn}{34}{}\Bx{mg}{61}{FIXED}\Bx{rd}{66}{}\Bx{bi}{100}{MET SAT\\(S-E)}
\Two{1173}{1182}{rd}{li}{48}{MOBILE}{mg}{FIXED}
\Two{1182}{1191.5}{rd}{li}{48}{MOBILE}{mg}{FIXED}
\Two{1191.5}{1211}{gn}{li}{48}{MOBILE}{mg}{FIXED}
\One{1211}{1222}{gn}{pu}{MOBILE SATELLITE (E-S)}
\Two{1222}{1230}{gn}{li}{48}{MOBILE}{mg}{FIXED}
\Cl{1230}{1239.5}{rd}\Bx{mg}{15}{}\Bx{li}{27}{}\Bx{gn}{31}{}\Bx{bi}{52}{}\Bx{og}{65}{}\Bx{li}{100}{MOBILE}
\Two{1239.5}{1249}{gn}{li}{48}{MOBILE}{mg}{FIXED}
\One{1249}{1259}{gn}{mg}{FIXED}
\Two{1259}{1267.5}{gn}{li}{48}{MOBILE}{mg}{FIXED}
\One{1267.5}{1276}{gn}{pu}{MOBILE SATELLITE (E-S)}
\Cl{1276}{1293.5}{rd}\Bx{og}{20}{}\Bx{bi}{40}{}\Bx{pk}{62}{}\Bx{li}{83}{}\Bx{mg}{100}{}
\Two{1293.5}{1300}{bk}{li}{32}{MOBILE}{mg}{}
\One{1300}{1305.7}{gn}{dg}{AMATEUR}
\Two{1305.7}{1311.7}{gn}{ye}{50}{}{dg}{}
\Cl{1311.7}{1318}{rd}\Bx{lm}{33}{}\Bx{li}{66}{}\Bx{ye}{100}{}
\Cl{1318}{1331}{rd}\Bx{lm}{25}{}\Bx{mg}{60}{}\Bx{li}{100}{Mobile}
\Two{1331}{1343}{gn}{mg}{50}{}{li}{}
\Cl{1343}{1358.5}{bk}\Bx{mg}{33}{}\Bx{ye}{65}{RADIOLOCATION}\Bx{rd}{70}{}\Bx{li}{100}{Mobile}
\Two{1358.5}{1365}{gn}{mg}{68}{}{li}{MOBILE}
\One{1365}{1372}{gn}{dg}{AMATEUR}
\Two{1372}{1383.5}{gn}{dg}{75}{AMATEUR}{ye}{}
\Two{1383.5}{1390}{gn}{dg}{40}{}{ye}{Radioloc.}
\Thr{1390}{1400}{gn}{ye}{33}{Radiolocation}{li}{66}{MOBILE}{mg}{FIXED}
\Thr{1400}{1406}{bk}{lm}{33}{}{lg}{66}{}{ye}{}
\Thr{1406}{1411.5}{rd}{pu}{33}{}{li}{66}{}{lm}{}
\Thr{1411.5}{1417.5}{gn}{mg}{33}{}{lm}{66}{}{li}{}
\Two{1417.5}{1424}{bk}{og}{50}{}{ye}{}
\Thr{1424}{1451.5}{bk}{ye}{33}{Radiolocation}{pe}{67}{METEOROLOGICAL\\AIDS}{br}{AERONAUTICAL\\RADIONAVIGATION}
\Two{1451.5}{1463}{bk}{ye}{50}{Radiolocation}{dg}{MARITIME\\RADIONAV}
%% ===== SHF =====
\Rw{803.7}
\Tks{803.7}{101.5/3.0,120.5/3.1,157/3.3,191/3.5,206.5/3.6,218.5/3.65,231/3.7,295.5/4.2,329.5/4.4,343.5/4.5,385.5/4.8,397.5/4.94,407.5/4.99,415/5.0,431.5/5.15,438/5.25,447/5.35,461/5.46,467/5.47,479/5.6,486/5.65,496/5.83,507/5.85,514/5.925,528/6.425,541/6.525,553/6.70,561/6.875,569/7.025,578/7.075,586/7.125,601.5/7.19,605.5/7.235,612.5/7.25,620.5/7.30,627.5/7.45,635.5/7.55,644/7.75,657.5/7.90,668/8.025,679.5/8.175,691/8.215,703/8.4,714.5/8.45,723/8.5,733/9.0,750/9.2,760/9.3,769/9.5,800.5/10.0,812.5/10.45,821/10.5,828.5/10.55,835/10.6,845.7/10.68,856.4/10.7,893.6/11.7,923/12.2,953/12.7,968.6/12.75,984/13.25,989.5/13.4,1000.7/13.75,1009/14.0,1021.6/14.2,1038/14.4,1047/14.47,1054/14.5,1065/14.7145,1078.5/15.1365,1087/15.35,1094/15.4,1104.5/15.43,1110.6/15.63,1121.8/15.7,1133.4/16.6,1139.5/17.1,1144/17.2,1152/17.3,1158/17.7,1169/17.8,1180/18.3,1187/18.6,1195/18.8,1202/19.3,1208/19.7,1215/20.1,1223/20.2,1236/21.2,1251/22.55,1267.5/23.55,1282.5/23.6,1296/24.0,1317/24.05,1334/24.25,1340.5/24.45,1357/24.65,1369.5/24.75,1389.5/25.05,1405/25.25,1415/25.5,1429/27.0,1441.5/27.5,1452.5/29.5,1463/30.0}
\Two{101.5}{120.5}{bk}{ye}{48}{Radiolocation}{dg}{MARITIME\\RADIONAVIGATION}
\Thr{120.5}{157}{rd}{ye}{45}{Radiolocation}{gn}{50}{}{ye}{RADIO\\LOCATION}
\Cl{157}{191}{rd}\Bx{dg}{33}{Amateur}\Bx{ye}{62}{Radiolocation}\Bx{gn}{70}{}\Bx{ye}{100}{RADIO\\LOCATION}
\Cl{191}{206.5}{rd}\Bx{ye}{30}{Radio-location}\Bx{gn}{36}{}\Bx{ye}{66}{RADIO-LOCATION}\Bx{br}{100}{AERO RADIONAV}
\Cl{206.5}{218.5}{rd}\Bx{ye}{25}{Radio-loc.}\Bx{oc}{45}{FIXED SAT}\Bx{gn}{52}{}\Bx{ye}{73}{RADIO-LOC}\Bx{br}{100}{AERO}
\Thr{218.5}{231}{gn}{mg}{25}{FIXED}{oc}{59}{FIXED SAT (S-E)}{li}{MOBILE**}
\Two{231}{295.5}{gn}{oc}{48}{FIXED\\SATELLITE\\(S-E)}{mg}{FIXED}
\One{295.5}{329.5}{bk}{br}{AERONAUTICAL\\RADIONAVIGATION}
\Two{329.5}{343.5}{rd}{li}{48}{MOBILE}{mg}{FIXED}
\Cl{343.5}{385.5}{gn}\Bx{mg}{34}{FIXED}\Bx{li}{64}{MOBILE}\Bx{rd}{70}{}\Bx{oc}{100}{FIXED\\SATELLITE (S-E)}
\Two{385.5}{397.5}{rd}{li}{48}{MOBILE}{mg}{FIXED}
\Two{397.5}{407.5}{gn}{li}{48}{MOBILE**}{mg}{FIXED}
\Two{407.5}{415}{bk}{pk}{48}{Space Research (Passive)}{by}{RADIO ASTRONOMY}
\One{415}{431.5}{bk}{br}{AERONAUTICAL\\RADIONAVIGATION}
\Two{431.5}{438}{bk}{oc}{48}{FIXED SAT. (E-S)}{br}{AERO RADIONAV}
\Thr{438}{447}{rd}{ye}{47}{Radiolocation}{gn}{52}{}{ye}{RADIOLOCATION}
\Cl{447}{461}{bk}\Bx{ye}{30}{Radio-\\location}\Bx{gn}{36}{}\Bx{ye}{63}{RADIO-\\LOCATION}\Bx{rd}{69}{}\Bx{br}{100}{AERO}
\Two{461}{467}{bk}{ye}{48}{Radiolocation}{lm}{RADIONAV}
\Two{467}{479}{bk}{ye}{47}{Radiolocation}{dg}{MARITIME RADIONAV}
\Thr{479}{486}{bk}{ye}{35}{Radiolocation}{mi}{64}{}{li}{MOBILE}
\Thr{486}{496}{rd}{dg}{48}{Amateur}{gn}{52}{}{ye}{RADIOLOCATION}
\Thr{496}{507}{rd}{dg}{48}{Amateur}{ye}{75}{RADIO-LOC}{li}{MOBILE}
\Thr{507}{514}{gn}{dg}{48}{Amateur}{oc}{75}{FIXED SAT}{li}{MOBILE}
\Two{514}{528}{gn}{oc}{48}{FIXED SATELLITE (E-S)}{mg}{FIXED}
\Two{528}{541}{gn}{li}{48}{MOBILE}{oc}{FIXED SATELLITE (E-S)}
\Two{541}{553}{gn}{mg}{48}{FIXED}{oc}{FIXED SAT (E-S)}
\Two{553}{561}{gn}{mg}{48}{FIXED}{oc}{FIXED SAT (E-S)}
\Thr{561}{569}{gn}{mg}{34}{FIXED}{oc}{67}{FIXED SAT}{li}{MOBILE}
\Two{569}{578}{gn}{oc}{48}{FIXED SAT}{li}{MOBILE}
\Two{578}{586}{gn}{mg}{48}{FIXED}{li}{MOBILE}
\One{586}{601.5}{rd}{mg}{FIXED}
\foreach \pa/\pb/\pc in {601.5/605.5/oc,605.5/612.5/pk,612.5/620.5/mg,620.5/627.5/mg,627.5/635.5/pu,635.5/644/pu,644/657.5/oc,657.5/668/mg,668/679.5/mg,679.5/691/pu,691/703/pu,703/714.5/pu,714.5/723/pk,723/733/og}{\Two{\pa}{\pb}{rd}{\pc}{50}{}{oc}{}}
\One{733}{740}{bk}{ye}{}\One{740}{750}{bk}{ye}{}\One{750}{760}{rd}{ye}{}\One{760}{769}{rd}{ye}{}
\One{769}{800.5}{rd}{ye}{Radiolocation}
\Cl{800.5}{812.5}{rd}\Bx{dg}{33}{Amateur}\Bx{ye}{66}{Radiolocation}\Bx{gn}{70}{}\Bx{ye}{100}{Radiolocation}
\Two{812.5}{821}{bk}{mi}{33}{Amateur Sat}{dg}{Amateur}
\One{821}{828.5}{bk}{ye}{RADIOLOCATION}
\Two{828.5}{835}{gn}{mg}{50}{}{pk}{}
\Cl{835}{845.7}{bk}\Bx{mg}{22}{}\Bx{gn}{27}{}\Bx{ye}{50}{}\Bx{og}{75}{}\Bx{pk}{100}{}
\Thr{845.7}{856.4}{bk}{og}{35}{}{oc}{70}{}{by}{}
\Two{856.4}{893.6}{gn}{oc}{48}{FIXED\\SATELLITE\\(S-E)}{mg}{FIXED}
\Two{893.6}{923}{gn}{oc}{48}{FIXED\\SATELLITE\\(S-E)}{li}{Mobile *}
\Two{923}{953}{gn}{mg}{48}{FIXED}{lm}{BROADCASTING\\SATELLITE}
\Thr{953}{968.6}{gn}{mg}{34}{FIXED}{li}{67}{MOBILE}{oc}{FIXED\\SATELLITE (E-S)}
\Cl{968.6}{984}{bk}\Bx{mg}{25}{FIXED}\Bx{li}{46}{MOBILE}\Bx{gn}{52}{}\Bx{oc}{100}{SPACE}
\Thr{984}{989.5}{bk}{mg}{33}{}{oc}{66}{}{br}{}
\Cl{989.5}{1000.7}{bk}\Bx{ye}{25}{Radio-loc}\Bx{gn}{30}{}\Bx{ye}{63}{RADIO\\LOC}\Bx{rd}{69}{}\Bx{gy}{89}{}\Bx{pk}{100}{}
\Thr{1000.7}{1009}{bk}{oc}{33}{}{gn}{38}{}{ye}{}
\Thr{1009}{1021.6}{gn}{mi}{25}{Land Mobile}{oc}{66}{FIXED SAT (E-S)}{li}{Mobile**}
\Cl{1021.6}{1038}{gn}\Bx{mi}{27}{Land Mobile\\Satellite}\Bx{oc}{48}{FIXED}\Bx{gn}{52}{}\Bx{li}{100}{Mobile**}
\Cl{1038}{1047}{rd}\Bx{mi}{25}{}\Bx{oc}{48}{}\Bx{gn}{52}{}\Bx{li}{73}{Mobile}\Bx{mg}{100}{FIXED}
\Thr{1047}{1054}{rd}{mi}{25}{}{oc}{60}{}{mg}{}
\Thr{1054}{1065}{rd}{pk}{33}{Space Research}{mg}{68}{FIXED}{li}{MOBILE}
\Thr{1065}{1078.5}{rd}{pk}{35}{Space Research}{li}{67}{Mobile}{mg}{FIXED}
\Thr{1078.5}{1087}{bk}{og}{35}{}{oc}{67}{}{by}{RADIO ASTRONOMY}
\One{1087}{1094}{bk}{br}{AERO RADIONAV}
\Thr{1094}{1104.5}{bk}{oc}{48}{FIXED SAT. (E-S)}{gn}{52}{}{br}{AERO RADIONAV}
\One{1104.5}{1110.6}{rd}{br}{AERO RADIONAV}
\Two{1110.6}{1121.8}{rd}{br}{60}{AERO}{ye}{RADIOLOC}
\Thr{1121.8}{1133.4}{rd}{ye}{40}{Radiolocation}{gn}{45}{}{ye}{RADIOLOCATION}
\Two{1133.4}{1139.5}{bk}{pk}{48}{}{oc}{FIXED SAT}
\Thr{1139.5}{1144}{bk}{ye}{33}{}{gn}{50}{}{lm}{}
\Two{1144}{1152}{gn}{mg}{50}{FIXED}{oc}{FIXED SAT}
\Two{1152}{1158}{rd}{mg}{50}{FIXED}{oc}{FIXED SAT}
\One{1158}{1169}{bk}{oc}{FIXED SATELLITE (S-E)}
\One{1169}{1180}{bk}{oc}{FIXED SATELLITE (S-E)}
\Thr{1180}{1187}{bk}{mg}{37}{}{gn}{42}{}{oc}{FIXED SAT}
\Two{1187}{1195}{bk}{og}{30}{}{oc}{FIXED SAT}
\Two{1195}{1202}{bk}{pu}{60}{}{gy}{}
\Two{1202}{1208}{bk}{pu}{48}{}{mg}{}
\Two{1208}{1215}{bk}{li}{33}{MOBILE}{mg}{FIXED}
\Two{1215}{1223}{bk}{li}{50}{MOBILE}{mg}{FIXED}
\Thr{1223}{1236}{bk}{og}{30}{}{li}{65}{MOBILE}{mg}{FIXED}
\Two{1236}{1251}{bk}{mg}{50}{FIXED}{li}{MOBILE}
\Thr{1251}{1267.5}{bk}{ly}{33}{INTER-SATELLITE}{li}{69}{MOBILE}{mg}{FIXED}
\Thr{1267.5}{1282.5}{bk}{li}{20}{MOBILE}{pk}{65}{SPACE RES.}{mg}{FIXED}
\Two{1282.5}{1296}{bk}{og}{65}{SPACE RES.}{by}{RADIO ASTRONOMY}
\Two{1296}{1317}{gn}{mi}{48}{AMATEUR SATELLITE}{dg}{AMATEUR}
\Cl{1317}{1334}{bk}\Bx{ye}{20}{Radio-\\location}\Bx{dg}{48}{Amateur}\Bx{gn}{52}{}\Bx{ye}{75}{RADIO\\LOC}\Bx{rd}{80}{}\Bx{og}{100}{}
\One{1334}{1340.5}{gn}{mg}{FIXED}
\Two{1340.5}{1357}{bk}{ly}{55}{INTER-SATELLITE}{ol}{RADIONAVIGATION}
\Two{1357}{1369.5}{bk}{ol!60!ye}{55}{RADIOLOCATION}{ly}{INTER-SATELLITE}
\Thr{1369.5}{1389.5}{bk}{oc}{48}{FIXED SATELLITE (E-S)}{gn}{52}{}{ol}{RADIONAVIGATION}
\Two{1389.5}{1405}{gn}{oc}{55}{FIXED\\SATELLITE (E-S)}{mg}{FIXED}
\Thr{1405}{1415}{bk}{ly}{33}{}{mg}{66}{}{og}{}
\Thr{1415}{1429}{gn}{li}{10}{}{ly}{50}{INTER-SAT}{mg}{}
\Thr{1429}{1441.5}{gn}{oc}{34}{FIXED SAT (E-S)}{li}{66}{MOBILE}{mg}{FIXED}
\Two{1441.5}{1452.5}{gn}{pu}{48}{MOBILE SATELLITE}{oc}{FIXED SATELLITE}
\Two{1452.5}{1463}{gn}{pu}{48}{MOBILE SATELLITE}{oc}{FIXED SATELLITE}
%% ===== EHF =====
\Rw{949}
\Tks{949}{101.5/30.0,121.8/31.0,135.5/31.3,148.7/31.8,158/32.0,166/32.3,179.3/33.0,185.5/33.4,211.5/36.0,221/37.0,236/37.6,250/38.0,263.3/38.6,272/39.5,285/40.0,297/40.5,310/41.0,325.6/42.5,340.7/43.5,351.6/45.5,364.3/46.9,371.9/47.0,380.4/47.2,392.6/48.2,405.8/50.2,418.6/50.4,428/51.4,440.3/52.6,460/54.25,467/55.78,473.4/56.9,480.4/57.0,494/58.2,508.3/59.0,521.5/59.3,540.3/64.0,554.5/65.0,568.7/66.0,590/71.0,646.5/74.0,657.5/75.5,667/76.0,675/77.0,680/77.5,687/78.0,698/81.0,717/84.0,740/86.0,772.6/92.0,792/95.0,821.5/100.0,833/102.0,849.4/105.0,907.6/116.0,925.3/119.98,936.5/120.02,954/126.0,989.5/134.0,1021.6/142.0,1030/144.0,1040/149.0,1053/150.0,1064.5/151.0,1107/164.0,1118.5/168.0,1128/170.0,1139.5/174.5,1153.4/176.5,1167.4/182.0,1181/185.0,1195/190.0,1231/200.0,1242/202.0,1280/217.0,1310/231.0,1321/235.0,1331/238.0,1342/241.0,1353/248.0,1363/250.0,1373/252.0,1398/265.0,1420/275.0,1463/300.0}
\Cl{101.5}{121.8}{bk}\Bx{pu}{34}{MOBILE\\SAT.}\Bx{oc}{64}{FIXED\\SAT.}\Bx{rd}{70}{}\Bx{gy!70!white}{100}{}
\Cl{121.8}{135.5}{bk}\Bx{li}{33}{MOBILE}\Bx{mg}{66}{}\Bx{gn}{70}{}\Bx{gy!70!white}{100}{}
\Thr{135.5}{148.7}{bk}{og}{34}{EARTH EXPL.}{pk}{66}{SPACE RES.}{by}{RADIO\\ASTRONOMY}
\Thr{148.7}{158}{bk}{ol}{45}{RADIONAVIGATION}{rd}{52}{}{pk}{}
\Thr{158}{166}{bk}{ol}{45}{RADIONAVIGATION}{rd}{52}{}{ly}{}
\Two{166}{179.3}{bk}{ly}{48}{INTER-SATELLITE}{ol}{RADIONAVIGATION}
\One{179.3}{185.5}{bk}{ol}{RADIONAVIGATION}
\Thr{185.5}{211.5}{rd}{ye}{46}{Radiolocation}{gn}{52}{}{ye}{RADIOLOCATION}
\Thr{211.5}{221}{bk}{og}{25}{}{pk}{53}{SPACE RES.}{li}{MOBILE}
\Cl{221}{236}{bk}\Bx{pk}{36}{SPACE RES.}\Bx{rd}{43}{}\Bx{li}{77}{MOBILE}\Bx{mg}{100}{FIXED}
\Cl{236}{250}{bk}\Bx{oc}{32}{FIXED SAT}\Bx{gn}{37}{}\Bx{pk}{63}{}\Bx{li}{80}{MOBILE}\Bx{mg}{100}{}
\Cl{250}{263.3}{bk}\Bx{oc}{32}{FIXED SAT}\Bx{gn}{38}{}\Bx{mg}{69}{FIXED}\Bx{li}{100}{MOBILE}
\Thr{263.3}{272}{gn}{li}{25}{MOBILE}{mg}{60}{FIXED}{pu}{SAT}
\Cl{272}{285}{bk}\Bx{li}{25}{MOBILE}\Bx{mg}{50}{FIXED}\Bx{gn}{55}{}\Bx{pu}{100}{SAT}
\Thr{285}{297}{bk}{og}{25}{}{pu}{65}{}{mg}{}
\Cl{297}{310}{gn}\Bx{mg}{16}{}\Bx{pu}{50}{}\Bx{bl}{73}{}\Bx{lm}{100}{BCST SAT}
\Cl{310}{325.6}{gn}\Bx{lm}{22}{BCST SAT}\Bx{bl}{48}{BCST}\Bx{li}{73}{MOBILE}\Bx{mg}{100}{FIXED}
\Cl{325.6}{340.7}{bk}\Bx{pu}{30}{FIXED SAT}\Bx{li}{50}{Mobile}\Bx{mg}{70}{}\Bx{rd}{73}{}\Bx{by}{100}{RADIO\\ASTR.}
\Two{340.7}{351.6}{rd}{pu}{50}{MOBILE SAT}{oc}{}
\Thr{351.6}{364.3}{bk}{li}{35}{MOBILE}{pu}{68}{}{lg}{RADIONAV}
\Thr{364.3}{371.9}{bk}{mg}{27}{}{te}{32}{}{li}{MOBILE}
\Two{371.9}{380.4}{gn}{mi}{49}{AMATEUR SATELLITE}{dg}{AMATEUR}
\Thr{380.4}{392.6}{gn}{pu}{33}{SAT}{li}{66}{MOBILE}{mg}{FIXED}
\Thr{392.6}{405.8}{bk}{oc}{33}{SAT}{li}{66}{MOBILE}{mg}{FIXED}
\Two{405.8}{418.6}{bk}{og}{49}{EARTH EXPL.}{pk}{SPACE RESEARCH}
\Thr{418.6}{428}{bk}{pu}{33}{}{li}{66}{MOBILE}{mg}{FIXED}
\Two{428}{440.3}{bk}{li}{49}{MOBILE}{mg}{FIXED}
\Two{440.3}{460}{bk}{pk}{49}{SPACE\\RESEARCH\\(Passive)}{og}{EARTH\\EXPLORATION\\SAT.\\(Passive)}
\Thr{460}{467}{bk}{og}{40}{}{og!70!white}{70}{}{pk}{}
\Thr{467}{473.4}{bk}{og}{30}{}{li}{60}{}{mg}{}
\Thr{473.4}{480.4}{bk}{ly}{33}{}{li}{66}{}{mg}{}
\Cl{480.4}{494}{bk}\Bx{og}{33}{}\Bx{ly}{47}{}\Bx{pk}{80}{}\Bx{li}{100}{}
\Thr{494}{508.3}{bk}{og}{35}{}{pk}{70}{}{og}{}
\Cl{508.3}{521.5}{bk}\Bx{ly}{13}{}\Bx{rd}{17}{}\Bx{li}{55}{}\Bx{mg}{76}{}\Bx{og}{100}{}
\Cl{521.5}{540.3}{bk}\Bx{ly}{24}{INTER-\\SAT}\Bx{rd}{28}{}\Bx{ye}{50}{RADIO\\LOC}\Bx{li}{74}{MOBILE}\Bx{mg}{100}{FIXED}
\Cl{540.3}{554.5}{bk}\Bx{ly}{24}{INTER-SAT}\Bx{rd}{28}{}\Bx{mg}{62}{FIXED}\Bx{li}{100}{MOBILE**}
\Cl{554.5}{568.7}{bk}\Bx{ly}{20}{}\Bx{gn}{24}{}\Bx{li}{40}{}\Bx{mg}{58}{}\Bx{pk}{78}{}\Bx{og}{100}{}
\Cl{568.7}{590}{bk}\Bx{ly}{18}{INTER-SAT}\Bx{gn}{22}{}\Bx{li}{36}{}\Bx{ol}{57}{RADIONAV}\Bx{pu}{80}{MOBILE\\SAT}\Bx{ly}{100}{}
\Cl{590}{646.5}{bk}\Bx{li}{25}{MOBILE}\Bx{mg}{50}{}\Bx{pu}{74}{}\Bx{oc}{100}{}
\Thr{646.5}{657.5}{bk}{li}{33}{}{mg}{66}{}{pu}{}
\Two{657.5}{667}{gn}{mi}{49}{}{dg}{}
\Two{667}{675}{bk}{mi}{49}{}{ly}{}
\Two{675}{680}{bk}{og}{49}{}{ye}{}
\Two{680}{687}{bk}{mi}{49}{}{ye}{}
\Two{687}{698}{bk}{mi}{49}{}{ye}{}
\Two{698}{717}{bk}{pu}{49}{}{mg}{}
\Thr{717}{740}{bk}{lm}{33}{}{pk}{66}{}{ye}{}
\Thr{740}{772.6}{bk}{og}{33}{EARTH}{pk}{66}{}{by}{}
\Two{772.6}{792}{bk}{pu}{49}{MOBILE SAT}{mg}{}
\Cl{792}{821.5}{bk}\Bx{ye}{20}{Radio-\\location}\Bx{ol}{40}{RADIO-\\NAVIGATION}\Bx{lg}{60}{RADIO-NAV\\SATELLITE}\Bx{pu}{80}{MOBILE\\SAT}\Bx{li}{100}{MOBILE}
\Two{821.5}{833}{bk}{pk}{49}{SPACE RESEARCH}{og}{EARTH EXPL. SAT}
\Two{833}{849.4}{bk}{oc}{49}{FIXED\\SATELLITE (S-E)}{mg}{FIXED}
\Thr{849.4}{907.6}{bk}{og}{33}{EARTH\\EXPLORATION\\SATELLITE\\(Passive)}{pk}{67}{SPACE\\RESEARCH\\(Passive)}{by}{RADIO\\ASTRONOMY}
\Cl{907.6}{925.3}{bk}\Bx{og}{41}{SPACE\\RES.}\Bx{ly}{60}{INTER-SAT}\Bx{li}{79}{MOBILE}\Bx{mg}{100}{FIXED}
\Cl{925.3}{936.5}{bk}\Bx{dg}{15}{}\Bx{gn}{20}{}\Bx{og}{40}{}\Bx{pk}{60}{}\Bx{by}{75}{}\Bx{li}{85}{}\Bx{mg}{100}{}
\Cl{936.5}{954}{bk}\Bx{og}{41}{SPACE\\RES.}\Bx{ly}{60}{INTER-SAT}\Bx{li}{79}{MOBILE}\Bx{mg}{100}{FIXED}
\Cl{954}{989.5}{bk}\Bx{ly}{26}{INTER-\\SATELLITE}\Bx{ye}{49}{RADIO\\LOCATION}\Bx{li}{74}{MOBILE}\Bx{mg}{100}{FIXED}
\Cl{989.5}{1021.6}{bk}\Bx{ye}{20}{Radio-\\location}\Bx{lg}{40}{RADIO-\\NAVIGATION\\SATELLITE}\Bx{ol}{60}{RADIO-\\NAVIGATION}\Bx{pu}{80}{MOBILE\\SATELLITE}\Bx{li}{100}{MOBILE}
\Two{1021.6}{1030}{gn}{mi}{49}{AMATEUR SATELLITE}{dg}{AMATEUR}
\Cl{1030}{1040}{bk}\Bx{mi}{45}{Amateur Satellite}\Bx{dg}{64}{Amateur}\Bx{gn}{70}{}\Bx{ye}{100}{RADIOLOC.}
\Thr{1040}{1053}{bk}{oc}{33}{FIXED SAT}{li}{67}{MOBILE}{mg}{FIXED}
\Cl{1053}{1064.5}{bk}\Bx{og}{25}{}\Bx{og!70!white}{40}{}\Bx{li}{60}{}\Bx{pu}{80}{}\Bx{mg}{100}{}
\Two{1064.5}{1107}{bk}{oc}{46}{FIXED\\SATELLITE\\(S-E)}{mg}{FIXED}
\Thr{1107}{1118.5}{bk}{pk}{33}{SPACE RES.}{by}{67}{RADIO\\ASTRONOMY}{og}{}
\Two{1118.5}{1128}{bk}{li}{48}{MOBILE}{mg}{FIXED}
\Thr{1128}{1139.5}{bk}{ly}{33}{INTER-SAT}{li}{67}{MOBILE}{mg}{FIXED}
\Cl{1139.5}{1153.4}{bk}\Bx{og}{20}{}\Bx{ly}{40}{}\Bx{pk}{60}{}\Bx{li}{80}{MOBILE}\Bx{mg}{100}{FIXED}
\Thr{1153.4}{1167.4}{bk}{ly}{33}{INTER-SAT}{li}{66}{MOBILE}{mg}{FIXED}
\Thr{1167.4}{1181}{bk}{og}{34}{}{pk}{67}{SPACE RESEARCH}{by}{RADIO ASTR.}
\Thr{1181}{1195}{bk}{ly}{34}{INTER-SAT}{li}{67}{MOBILE}{mg}{FIXED}
\Cl{1195}{1231}{bk}\Bx{lg}{25}{RADIO-\\NAVIGATION\\SATELLITE}\Bx{ol}{50}{RADIO-\\NAVIGATION}\Bx{pu}{75}{MOBILE\\SATELLITE}\Bx{li}{100}{MOBILE}
\Thr{1231}{1242}{bk}{og}{50}{SPACE RES.}{li}{75}{MOBILE}{mg}{FIXED}
\Thr{1242}{1280}{bk}{oc}{33}{FIXED\\SATELLITE\\(S-E)}{li}{67}{MOBILE}{mg}{FIXED}
\Thr{1280}{1310}{bk}{og}{34}{EARTH\\EXPLORATION\\SATELLITE\\(Passive)}{pk}{67}{SPACE\\RESEARCH\\(Passive)}{by}{RADIO\\ASTRONOMY}
\Cl{1310}{1321}{bk}\Bx{ye}{25}{RADIO}\Bx{pu}{50}{SAT}\Bx{li}{75}{MOBILE}\Bx{mg}{100}{}
\Cl{1321}{1331}{bk}\Bx{og}{25}{}\Bx{pu}{50}{}\Bx{li}{75}{MOBILE}\Bx{mg}{100}{}
\Cl{1331}{1342}{bk}\Bx{ye}{25}{}\Bx{pu}{50}{}\Bx{li}{75}{MOBILE}\Bx{mg}{100}{}
\Cl{1342}{1353}{bk}\Bx{dg}{35}{Amateur}\Bx{mi}{64}{Amateur Sat}\Bx{gn}{70}{}\Bx{ye}{100}{RADIO-LOC}
\Two{1353}{1363}{gn}{dg}{50}{AMATEUR}{mi}{AMATEUR SATELLITE}
\Two{1363}{1373}{bk}{og}{50}{}{pk}{SPACE RES. (Passive)}
\Cl{1373}{1398}{bk}\Bx{lg}{25}{RADIO-\\NAV. SAT.}\Bx{ol}{50}{RADIO-\\NAV.}\Bx{pu}{75}{MOBILE\\SATELLITE}\Bx{li}{100}{MOBILE}
\Cl{1398}{1420}{bk}\Bx{by}{25}{RADIO\\ASTRONOMY}\Bx{pu}{58}{FIXED\\SATELLITE\\(S-E)}\Bx{li}{75}{MOBILE}\Bx{mg}{100}{FIXED}
\Two{1420}{1463}{bk}{li}{49}{MOBILE}{mg}{FIXED}
%% row end labels
\foreach \yy/\ll/\yc/\rl in {191/3 kHz/191/300 kHz,337/300 kHz/337/3 MHz,481/3 MHz/487/30 MHz,627/30 MHz/627/300 MHz,775/300 MHz/772/3 GHz,916/3 GHz/917/30 GHz,1064/30 GHz/1064/300 GHz}{
 \Tt[edgetext,anchor=west]{101}{\yy}{\Cnd[.85]{\ll}}
 \Tt[edgetext,anchor=east]{1464}{\yc}{\Cnd[.85]{\rl}}}
\Tt[tinytext]{1116}{335}{TRAVELERS INFORMATION STATIONS (G) AT 1610 kHz}
\Tt[tinytext]{600}{480}{ISM – 6.78 ± .015 MHz}
\Tt[tinytext]{979}{479}{ISM – 13.560 ± .007 MHz}
\Tt[tinytext]{1431}{480}{ISM – 27.12 ± .163 MHz}
\Tt[tinytext]{296}{627}{ISM – 40.68 ± .02 MHz}
\Tt[tinytext]{745}{770}{ISM – 915.0 ± 13 MHz}
\Tt[tinytext]{1360}{770}{ISM – 2450.0 ± 50 MHz}
\Tt[tinytext]{508}{915}{ISM – 5.8 ± .075 GHz}
\Tt[tinytext]{1360}{915}{ISM – 24.125 ± 0.125 GHz}
\Tt[tinytext,align=center]{527}{1066}{ISM – 61.25 ± .250 GHz\\59-64 GHz IS DESIGNATED FOR\\UNLICENSED DEVICES}
\Tt[tinytext]{928}{1061}{ISM – 122.5 ± .500 GHz}
\Tt[tinytext]{1366}{1061}{ISM – 245.0 ± 1GHz}
\Tt[tinytext,anchor=west]{101}{1088}{* EXCEPT AERO MOBILE (R)}
\Tt[tinytext,anchor=west]{101}{1098}{** EXCEPT AERO MOBILE}
%% ===== bottom chart =====
\fill[bo] (425.7,1100.5) rectangle (681.7,1141);
\draw[black!65,line width=.5pt] (320.5,1100) rectangle (1124.5,1141);
\foreach \yy in {1106.7,1115.7,1135.7}{\draw[black!65,line width=.5pt] (320.5,\yy) -- (1124.5,\yy);}
\foreach \k in {0,...,24}{\pgfmathsetmacro\tx{353.3+32.15*\k}
 \draw[black!65,line width=.4pt] (\tx,1100) -- (\tx,1106.7);
 \draw[black!65,line width=.4pt] (\tx,1135.7) -- (\tx,1141);}
\foreach \xx in {455.7,488.3,520.7,552.3,585,616.7,649.3}{\draw[black!65,line width=.4pt] (\xx,1106.7) -- (\xx,1115.7);}
\foreach \k/\w/\f in {0/3 × 10\textsuperscript{7}m/10 Hz,1/3 × 10\textsuperscript{6}m/100 Hz,2/3 × 10\textsuperscript{5}m/1 kHz,3/{30,000 m}/10 kHz,4/{3,000 m}/100 kHz,5/300 m/1 MHz,6/30 m/10 MHz,7/3 m/100 MHz,8/30 cm/1 GHz,9/3 cm/10 GHz,10/0.3 cm/100 GHz,11/0.03 cm/1 THz,12/3 × 10\textsuperscript{5}Å/10\textsuperscript{13}Hz,13/3 × 10\textsuperscript{4}Å/10\textsuperscript{14}Hz,14/3 × 10\textsuperscript{3}Å/10\textsuperscript{15}Hz,15/3 × 10\textsuperscript{2}Å/10\textsuperscript{16}Hz,16/30Å/10\textsuperscript{17}Hz,17/3Å/10\textsuperscript{18}Hz,18/3 × 10\textsuperscript{-1}Å/10\textsuperscript{19}Hz,19/3 × 10\textsuperscript{-2}Å/10\textsuperscript{20}Hz,20/3 × 10\textsuperscript{-3}Å/10\textsuperscript{21}Hz,21/3 × 10\textsuperscript{-4}Å/10\textsuperscript{22}Hz,22/3 × 10\textsuperscript{-5}Å/10\textsuperscript{23}Hz,23/3 × 10\textsuperscript{-6}Å/10\textsuperscript{24}Hz,24/3 × 10\textsuperscript{-7}Å/10\textsuperscript{25}Hz}{
 \pgfmathsetmacro\tx{353.3+32.15*\k}
 \Tt[tinytext]{\tx}{1096}{\w}
 \Tt[tinytext]{\tx}{1145}{\f}}
\Tt[tinytext,anchor=east]{318}{1096}{WAVELENGTH}
\Tt[tinytext,anchor=east,align=right]{318}{1110}{BAND\\DESIGNATIONS}
\Tt[tinytext,anchor=east]{318}{1123}{ACTIVITIES}
\Tt[tinytext,anchor=east]{318}{1145}{FREQUENCY 0}
\foreach \xx/\bb in {388/VERY LOW FREQUENCY (VLF),473/LF,506.7/MF,538/HF,570.7/VHF,601.7/UHF,634/SHF,666.7/EHF,725/INFRARED,782/VISIBLE,840.7/ULTRAVIOLET,906.7/X-RAY,965/GAMMA-RAY,1075.7/COSMIC-RAY}{
 \Tt[bandtext]{\xx}{1111}{\Cnd{\bb}}}
\draw[black!65,line width=.5pt] (357.3,1126.7) -- (357.3,1115.7);
\draw[black!65,line width=.5pt] (357.3,1126.7) -- (451.7,1126.7) -- (451.7,1115.7);
\draw[black!65,line width=.5pt] (498,1115.7) -- (498,1126.7) -- (516,1126.7) -- (516,1115.7);
\foreach \pa/\pb in {571.7/578,582/590,612/616,619/629,644/652}{\draw[black!65,line width=.5pt] (\pa,1115.7) -- (\pa,1126.7) -- (\pb,1126.7) -- (\pb,1115.7);}
\draw[black!65,line width=.5pt] (793,1115.7) -- (793,1124.5) -- (801,1124.5) -- (801,1115.7);
\foreach \xx/\nm in {404/Audible Range,476/AM Broadcast →,553/FM Broadcast →,586/P,604/L,614/S,624/C,638/X,710/Sub-Millimeter,780.7/Visible,838/Ultraviolet,945/Gamma-ray,1077/Cosmic-ray}{
 \Tt[acttext]{\xx}{1122}{\Cnd[.85]{\nm}}}
\Tt[acttext,align=center,font=\fontsize{4.5}{4.8}\selectfont]{669}{1122}{Radar\\Bands}
\foreach \xx/\nm in {335/Infra-sonics,404/Sonics,475/Ultra-sonics,635/Microwaves,738/Infrared,920/X-ray}{
 \Tt[acttext]{\xx}{1132}{\Cnd[.85]{\nm}}}
\foreach \sa/\sb in {938/1025,912/815,752/792,348/322,358/387,423/360,425/458,490/497,597/577,682/612,690/706}{
 \draw[black!40,line width=.5pt,-{Stealth[length=3pt]}] (\sa,1132) -- (\sb,1132);}
\foreach \sa/\sb in {853/870,822/803,962/985,927/904,1095/1123,1059/1030}{
 \draw[black!60,line width=.5pt,-{Stealth[length=3.5pt]}] (\sa,1122) -- (\sb,1122);}
% radio spectrum bracket
\coordinate (rsl) at (425.7,1157); \coordinate (rsr) at (681.7,1157);
\draw[black!70,line width=.5pt] (425.7,1141) -- (425.7,1165);
\draw[black!70,line width=.5pt] (681.7,1141) -- (681.7,1165);
\Tt[inner sep=0pt,text=black!80,font=\fontsize{13}{14}\selectfont]{553}{1157}{\Cnd[.72]{THE RADIO SPECTRUM}}
\draw[black!70,line width=.5pt,-{Stealth[length=5pt]}] (495,1157) -- (rsl);
\draw[black!70,line width=.5pt,-{Stealth[length=5pt]}] (611,1157) -- (rsr);
\Tt[inner sep=0pt,text=black!75,font=\fontsize{7}{8}\selectfont]{553}{1168}{\Cnd[.8]{MAGNIFIED ABOVE}}
\Tt[tinytext]{425.7}{1168}{3 kHz}
\Tt[tinytext]{681.7}{1168}{300 GHz}
\Tt[tinytext,anchor=north west,font=\fontsize{4.4}{6.8}\selectfont,align=left]{1240}{1096}{\textbf{PLEASE NOTE:} THE SPACING ALLOTTED THE SERVICES IN THE SPEC-\\TRUM SEGMENTS SHOWN IS NOT PROPORTIONAL TO THE ACTUAL AMOUNT\\OF SPECTRUM OCCUPIED.}
%% ===== overlays =====
\draw[elred,line width=16.5pt] (265,130) ellipse [x radius=247.5,y radius=112];
\foreach \xx/\yy/\nm in {673/137/LF,673/281/MF,689.5/425.5/HF,706/568.5/VHF,703/713/UHF,706/857/SHF,707/1001/EHF}{
 \Tt[bigband]{\xx}{\yy}{\Cnd[.88]{\nm}}}
\end{tikzpicture}
\end{document}
